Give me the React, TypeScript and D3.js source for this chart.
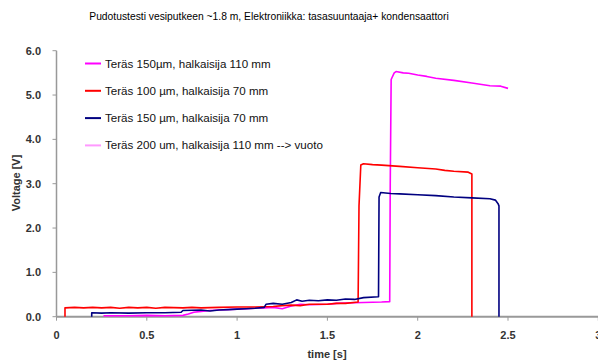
import React from "react";
import * as d3 from "d3";

const title = "Pudotustesti vesiputkeen ~1.8 m, Elektroniikka: tasasuuntaaja+ kondensaattori";
const xTicks = [0, 0.5, 1, 1.5, 2, 2.5, 3];
const yTicks = [0, 1, 2, 3, 4, 5, 6];
const seriesNames = [
  "Teräs 150µm, halkaisija 110 mm",
  "Teräs 100 µm, halkaisija 70 mm",
  "Teräs 150 µm, halkaisija 70 mm",
  "Teräs 200 um, halkaisija 110 mm --> vuoto",
];
const seriesColors = ["#ff00ff", "#ff0000", "#000080", "#ff99ff"];

const magenta: [number, number][] = [
  [0.26, 0.02], [0.4, 0.02], [0.5, 0.03], [0.6, 0.02], [0.7, 0.03], [0.73, 0.06], [0.76, 0.1],
  [0.8, 0.12], [0.85, 0.14], [0.9, 0.15], [1.0, 0.17], [1.1, 0.19], [1.15, 0.2], [1.2, 0.21],
  [1.25, 0.18], [1.3, 0.24], [1.35, 0.28], [1.4, 0.27], [1.5, 0.28], [1.55, 0.3], [1.6, 0.31],
  [1.7, 0.32], [1.8, 0.33], [1.845, 0.34], [1.848, 3.0], [1.853, 5.35], [1.87, 5.5],
  [1.88, 5.53], [1.92, 5.5], [1.95, 5.49], [2.0, 5.45], [2.05, 5.42], [2.1, 5.38],
  [2.2, 5.33], [2.3, 5.27], [2.4, 5.21], [2.46, 5.2], [2.5, 5.15],
];
const red: [number, number][] = [
  [0.047, 0], [0.047, 0.2], [0.1, 0.21], [0.15, 0.2], [0.2, 0.21], [0.25, 0.2], [0.3, 0.21],
  [0.35, 0.19], [0.4, 0.21], [0.45, 0.2], [0.5, 0.21], [0.55, 0.19], [0.6, 0.21], [0.7, 0.2],
  [0.75, 0.21], [0.8, 0.2], [0.9, 0.21], [1.0, 0.22], [1.1, 0.22], [1.2, 0.23], [1.25, 0.25],
  [1.3, 0.26], [1.35, 0.25], [1.4, 0.28], [1.5, 0.28], [1.55, 0.3], [1.6, 0.3], [1.67, 0.33],
  [1.675, 2.5], [1.685, 3.42], [1.7, 3.45], [1.75, 3.43], [1.8, 3.42], [1.9, 3.39],
  [2.0, 3.36], [2.1, 3.33], [2.15, 3.3], [2.2, 3.28], [2.28, 3.26], [2.3, 3.22], [2.3, 0],
];
const navy: [number, number][] = [
  [0.195, 0.0], [0.195, 0.09], [0.25, 0.08], [0.3, 0.09], [0.4, 0.08], [0.5, 0.09], [0.6, 0.09],
  [0.69, 0.1], [0.7, 0.14], [0.8, 0.15], [0.85, 0.13], [0.9, 0.15], [0.95, 0.16], [1.0, 0.17],
  [1.05, 0.18], [1.1, 0.19], [1.15, 0.21], [1.16, 0.28], [1.2, 0.3], [1.25, 0.28], [1.3, 0.32],
  [1.33, 0.38], [1.36, 0.35], [1.4, 0.37], [1.45, 0.36], [1.5, 0.38], [1.55, 0.37], [1.6, 0.4],
  [1.65, 0.39], [1.7, 0.43], [1.783, 0.45], [1.786, 2.7], [1.795, 2.8], [1.85, 2.78],
  [1.9, 2.77], [2.0, 2.75], [2.1, 2.73], [2.2, 2.7], [2.3, 2.68], [2.4, 2.66], [2.43, 2.63],
  [2.445, 2.55], [2.45, 2.5], [2.45, 0],
];
const vuoto: [number, number][] = [];

const seriesData = [magenta, red, navy, vuoto];

export default function App() {
  const W = 598, H = 362;
  const x = d3.scaleLinear().domain([0, 3]).range([56.5, 598.3]);
  const y = d3.scaleLinear().domain([0, 6]).range([316.7, 50.7]);
  const line = d3.line<[number, number]>().x(d => x(d[0])).y(d => y(d[1]));
  const font = "Liberation Sans, Arial, sans-serif";
  const axisColor = "#999";
  return (
    <svg width={W} height={H} style={{ position: "absolute", left: 0, top: 0 }} fontFamily={font}>
      <rect width={W} height={H} fill="#fff" />
      <text x={269} y={20} fontSize={10.3} textAnchor="middle" fill="#000">{title}</text>
      {/* axes */}
      <line x1={x(0)} x2={x(0)} y1={y(6)} y2={y(0)} stroke={axisColor} strokeWidth={1.5} />
      <line x1={x(0)} x2={W} y1={y(0)} y2={y(0)} stroke={axisColor} strokeWidth={2} />
      {yTicks.map(t => (
        <g key={"y" + t}>
          <line x1={x(0) - 4} x2={x(0)} y1={y(t)} y2={y(t)} stroke={axisColor} strokeWidth={1} />
          <text x={41} y={y(t) + 4} fontSize={11} fontWeight="bold" textAnchor="end" fill="#333">{t.toFixed(1)}</text>
        </g>
      ))}
      {xTicks.map(t => (
        <g key={"x" + t}>
          <line x1={x(t)} x2={x(t)} y1={y(0)} y2={y(0) + 4} stroke={axisColor} strokeWidth={1} />
          <text x={x(t)} y={339} fontSize={11} fontWeight="bold" textAnchor="middle" fill="#333">{String(t)}</text>
        </g>
      ))}
      <text x={327} y={358} fontSize={11} fontWeight="bold" textAnchor="middle" fill="#333">time [s]</text>
      <text transform={`translate(20,183) rotate(-90)`} fontSize={11} fontWeight="bold" textAnchor="middle" fill="#333">Voltage [V]</text>
      {/* series */}
      {seriesData.map((d, i) => d.length > 0 ? (
        <path key={"s" + i} d={line(d) || ""} fill="none" stroke={seriesColors[i]} strokeWidth={1.6} strokeLinejoin="round" />
      ) : null)}
      {/* legend */}
      {seriesNames.map((n, i) => {
        const ly = 63.5 + i * 27.3;
        return (
          <g key={"l" + i}>
            <line x1={85} x2={101} y1={ly} y2={ly} stroke={seriesColors[i]} strokeWidth={2} />
            <text x={105} y={ly + 4} fontSize={11.6} fill="#111">{n}</text>
          </g>
        );
      })}
    </svg>
  );
}
